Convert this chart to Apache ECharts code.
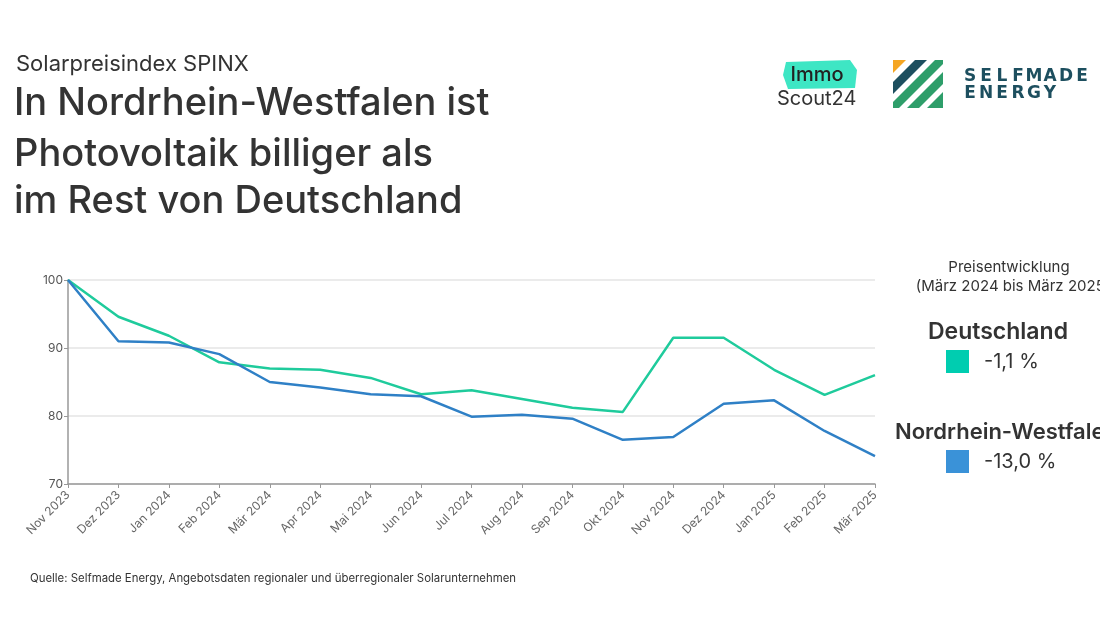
<!DOCTYPE html>
<html>
<head>
<meta charset="utf-8">
<script src="https://cdn.jsdelivr.net/npm/echarts@6/dist/echarts.min.js"></script>
<style>
  html, body { margin: 0; padding: 0; background: #fff; }
  #chart { width: 1100px; height: 618px; }
</style>
</head>
<body>
<div id="chart"></div>
<script>
  const months = ['Nov 2023', 'Dez 2023', 'Jan 2024', 'Feb 2024', 'Mär 2024', 'Apr 2024', 'Mai 2024',
    'Jun 2024', 'Jul 2024', 'Aug 2024', 'Sep 2024', 'Okt 2024', 'Nov 2024', 'Dez 2024',
    'Jan 2025', 'Feb 2025', 'Mär 2025'];
  const deutschland = [100, 94.6, 91.8, 87.9, 87.0, 86.8, 85.6, 83.2, 83.8, 82.5, 81.2, 80.6, 91.5, 91.5, 86.8, 83.1, 86.0];
  const nrw = [100, 91.0, 90.8, 89.1, 85.0, 84.2, 83.2, 82.9, 79.9, 80.2, 79.6, 76.5, 76.9, 81.8, 82.3, 77.8, 74.1];
  const yTicks = [70, 80, 90, 100];
  const legendItems = [
    { name: 'Deutschland', change: '-1,1 %', color: '#00cdb0', x: 928, size: 23 },
    { name: 'Nordrhein-Westfalen', change: '-13,0 %', color: '#3a92d8', x: 895, size: 22 }
  ];

  const font = 'Inter, sans-serif';

  // diagonal band of the logo icon, clipped to a 50x48 box
  function band(a, b) {
    const lo = u => [Math.max(0, u - 48), Math.min(u, 48)];
    const hi = u => [Math.min(u, 50), Math.max(0, u - 50)];
    const pts = [lo(a), hi(a)];
    if (a < 50 && b > 50) pts.push([50, 0]);
    pts.push(hi(b), lo(b));
    if (a < 48 && b > 48) pts.push([0, 48]);
    return pts;
  }

  const logoIcon = [
    { r: [0, 13], c: '#f5a623' },
    { r: [22, 34], c: '#1d4f5f' },
    { r: [42, 54], c: '#2e9e6a' },
    { r: [62, 74], c: '#2e9e6a' },
    { r: [82, 98], c: '#2e9e6a' }
  ].map(s => ({
    type: 'polygon', x: 893, y: 60,
    shape: { points: band(s.r[0], s.r[1]) },
    style: { fill: s.c }
  }));

  function spaced(word, x0, y, step) {
    return word.split('').map((ch, i) => ({
      type: 'text', x: x0 + i * step, y: y,
      style: { text: ch, font: 'bold 17px "DejaVu Sans", sans-serif', fill: '#1d4f5f', textAlign: 'center', textVerticalAlign: 'middle' }
    }));
  }

  const legendGraphics = [];
  legendItems.forEach((it, i) => {
    const y0 = 332 + i * 100;
    legendGraphics.push(
      { type: 'text', x: it.x, y: y0, style: { text: it.name, font: '600 ' + it.size + 'px ' + font, fill: '#333', textVerticalAlign: 'middle' } },
      { type: 'rect', shape: { x: 946, y: y0 + 18, width: 23, height: 23 }, style: { fill: it.color } },
      { type: 'text', x: 984, y: y0 + 30, style: { text: it.change, font: '20px ' + font, fill: '#333', textVerticalAlign: 'middle' } }
    );
  });

  const chart = echarts.init(document.getElementById('chart'));
  chart.setOption({
    backgroundColor: '#fff',
    animation: false,
    grid: { left: 68, right: 225, top: 280, bottom: 134 },
    xAxis: {
      type: 'category',
      data: months,
      boundaryGap: false,
      axisLine: { lineStyle: { color: '#999', width: 1.5 } },
      axisTick: { alignWithLabel: true, lineStyle: { color: '#999' }, length: 4 },
      axisLabel: { rotate: 45, color: '#666', fontSize: 12, fontFamily: font, margin: 9 }
    },
    yAxis: {
      type: 'value',
      min: yTicks[0],
      max: yTicks[yTicks.length - 1],
      interval: 10,
      axisLine: { show: true, lineStyle: { color: '#999', width: 1.5 } },
      axisTick: { show: true, length: 4, lineStyle: { color: '#999' } },
      axisLabel: { color: '#555', fontSize: 12, fontFamily: font, margin: 5 },
      splitLine: { lineStyle: { color: '#e5e5e5', width: 1.5 } }
    },
    series: [
      { name: 'Deutschland', type: 'line', data: deutschland, symbol: 'none', lineStyle: { color: '#1fcb9c', width: 2.5 } },
      { name: 'Nordrhein-Westfalen', type: 'line', data: nrw, symbol: 'none', lineStyle: { color: '#2f80c6', width: 2.5 } }
    ],
    graphic: [
      { type: 'text', x: 16, y: 64, style: { text: 'Solarpreisindex SPINX', font: '22px ' + font, fill: '#333', textVerticalAlign: 'middle' } },
      { type: 'text', x: 14, y: 104, style: { text: 'In Nordrhein-Westfalen ist', font: '500 38px ' + font, fill: '#333', textVerticalAlign: 'middle' } },
      { type: 'text', x: 14, y: 155, style: { text: 'Photovoltaik billiger als', font: '500 38px ' + font, fill: '#333', textVerticalAlign: 'middle' } },
      { type: 'text', x: 14, y: 202, style: { text: 'im Rest von Deutschland', font: '500 38px ' + font, fill: '#333', textVerticalAlign: 'middle' } },
      // ImmoScout24 logo
      { type: 'polygon', shape: { points: [[786, 62], [850, 60], [857, 70], [855, 88], [788, 89], [783, 75]] }, style: { fill: '#3ee6c4' } },
      { type: 'text', x: 817, y: 75, style: { text: 'Immo', font: '500 20px ' + font, fill: '#222', textAlign: 'center', textVerticalAlign: 'middle' } },
      { type: 'text', x: 777, y: 99, style: { text: 'Scout24', font: '20px ' + font, fill: '#333', textVerticalAlign: 'middle' } },
      ...logoIcon,
      ...spaced('SELFMADE', 970, 77, 16),
      ...spaced('ENERGY', 970, 94, 16),
      // legend
      { type: 'text', x: 1009, y: 267, style: { text: 'Preisentwicklung', font: '15px ' + font, fill: '#333', textAlign: 'center', textVerticalAlign: 'middle' } },
      { type: 'text', x: 1013, y: 286, style: { text: '(März 2024 bis März 2025)', font: '15px ' + font, fill: '#333', textAlign: 'center', textVerticalAlign: 'middle' } },
      ...legendGraphics,
      { type: 'text', x: 30, y: 579, style: { text: 'Quelle: Selfmade Energy, Angebotsdaten regionaler und überregionaler Solarunternehmen', font: '11.4px ' + font, fill: '#333', textVerticalAlign: 'middle' } }
    ]
  });
</script>
</body>
</html>
